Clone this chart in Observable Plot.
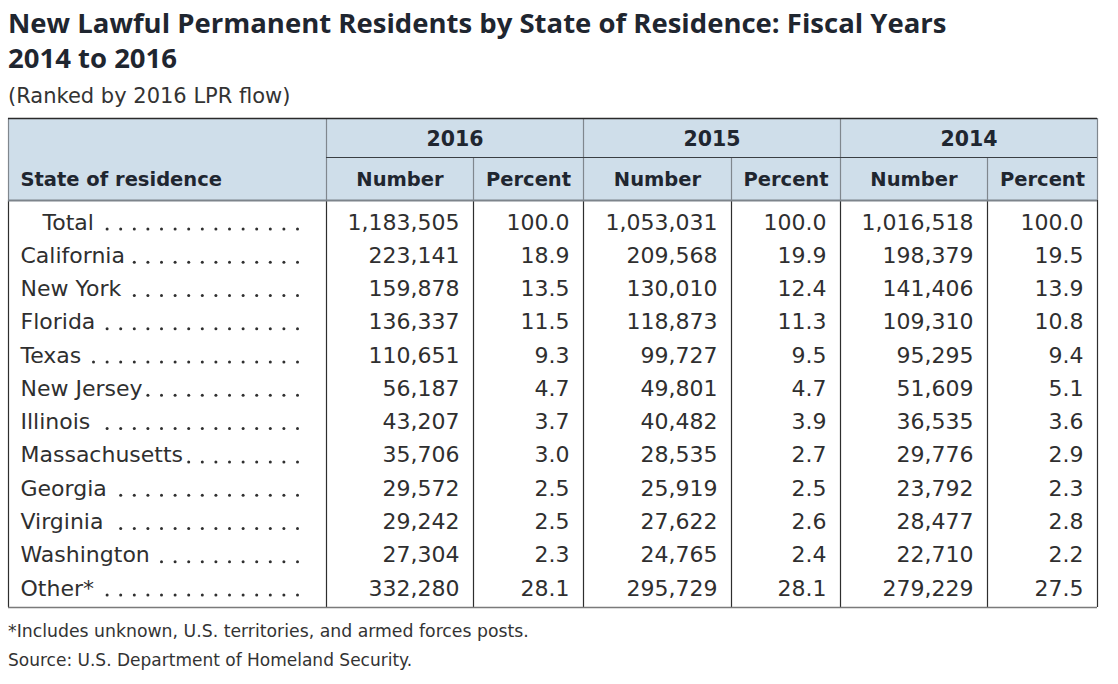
<!DOCTYPE html>
<html><head><meta charset="utf-8">
<script src="https://cdn.jsdelivr.net/npm/d3@7"></script>
<script src="https://cdn.jsdelivr.net/npm/@observablehq/plot@0.6"></script>
<style>
body{margin:0;background:#fff;width:1118px;height:684px;position:relative;overflow:hidden;}
#title{position:absolute;left:8px;top:5px;margin:0;font:700 27.5px/35px "Open Sans",sans-serif;color:#1f2630;white-space:nowrap;}
#subtitle{position:absolute;left:8px;top:84px;font:400 21px/24px "DejaVu Sans",sans-serif;color:#333;white-space:nowrap;}
#chart{position:absolute;left:0;top:110px;}
#note{position:absolute;left:8px;top:621px;font:400 17.3px/20px "DejaVu Sans",sans-serif;color:#333;white-space:nowrap;}
#source{position:absolute;left:8px;top:650px;font:400 17px/20px "DejaVu Sans",sans-serif;color:#333;white-space:nowrap;}
</style></head><body>
<h1 id="title">New Lawful Permanent Residents by State of Residence: Fiscal Years<br>2014 to 2016</h1>
<div id="subtitle">(Ranked by 2016 LPR flow)</div>
<div id="chart"></div>
<div id="note">*Includes unknown, U.S. territories, and armed forces posts.</div>
<div id="source">Source: U.S. Department of Homeland Security.</div>
<script>
// ---- data ----
const states = ["Total","California","New York","Florida","Texas","New Jersey","Illinois","Massachusetts","Georgia","Virginia","Washington","Other*"];
const years = ["2016","2015","2014"];
const subHeads = ["Number","Percent"];
const stubHead = "State of residence";
const num2016 = [1183505,223141,159878,136337,110651,56187,43207,35706,29572,29242,27304,332280];
const pct2016 = [100.0,18.9,13.5,11.5,9.3,4.7,3.7,3.0,2.5,2.5,2.3,28.1];
const num2015 = [1053031,209568,130010,118873,99727,49801,40482,28535,25919,27622,24765,295729];
const pct2015 = [100.0,19.9,12.4,11.3,9.5,4.7,3.9,2.7,2.5,2.6,2.4,28.1];
const num2014 = [1016518,198379,141406,109310,95295,51609,36535,29776,23792,28477,22710,279229];
const pct2014 = [100.0,19.5,13.9,10.8,9.4,5.1,3.6,2.9,2.3,2.8,2.2,27.5];

// ---- layout ----
const W = 1118, H = 505;
const colEdges = [8, 326, 473, 583, 731, 840, 987, 1097];
const tableTop = 8, hdrMid = 47, hdrBot = 90, tableBot = 497;
const row0 = 112, rowStep = 33.27;
const rowY = i => row0 + i * rowStep;
const padR = 14;
const bodySize = 22, headSize = 19.5, yearSize = 20.5;
const textColor = "#2f2f2f", headColor = "#1f2630";

const fmtN = d3.format(",");
const fmtP = d3.format(".1f");
const dataCols = [num2016, pct2016, num2015, pct2015, num2014, pct2014];
const fmts = [fmtN, fmtP, fmtN, fmtP, fmtN, fmtP];

// body cells
const cells = [];
dataCols.forEach((vals, c) => {
  vals.forEach((v, i) => cells.push({x: colEdges[c + 2] - padR, y: rowY(i), text: fmts[c](v)}));
});

// stub labels
const labels = states.map((s, i) => ({x: i === 0 ? 42 : 20, y: rowY(i), text: s}));

// dot leaders
const ctx = document.createElement("canvas").getContext("2d");
ctx.font = `${bodySize}px "DejaVu Sans"`;
const dotEnd = 297, pitch = 13.6;
const dots = [];
labels.forEach(l => {
  const end = l.x + ctx.measureText(l.text).width + 4;
  for (let x = dotEnd; x >= end; x -= pitch) dots.push({x, y: l.y + 6.5});
});

// headers
const yearHeads = years.map((y, k) => ({x: (colEdges[1 + 2 * k] + colEdges[3 + 2 * k]) / 2, y: (tableTop + hdrMid) / 2 + 1, text: y}));
const subHeadCells = d3.range(6).map(c => ({x: (colEdges[c + 1] + colEdges[c + 2]) / 2, y: (hdrMid + hdrBot) / 2 + 0.5, text: subHeads[c % 2]}));

// lines
const headerFullV = [colEdges[0], colEdges[1], colEdges[3], colEdges[5], colEdges[7]].map(x => ({x, y1: tableTop, y2: hdrBot}));
const headerSubV = [colEdges[2], colEdges[4], colEdges[6]].map(x => ({x, y1: hdrMid, y2: hdrBot}));
const bodyV = colEdges.map(x => ({x, y1: hdrBot, y2: tableBot}));

const chart = Plot.plot({
  width: W, height: H, margin: 0,
  x: {type: "identity", axis: null},
  y: {type: "identity", axis: null},
  style: {fontFamily: "DejaVu Sans", background: "transparent", color: textColor},
  marks: [
    Plot.rect([{}], {x1: colEdges[0], x2: colEdges[7], y1: tableTop, y2: hdrBot, fill: "#cfdeea"}),
    Plot.ruleX(headerFullV, {x: "x", y1: "y1", y2: "y2", stroke: "#80878e", strokeWidth: 1.2}),
    Plot.ruleX(headerSubV, {x: "x", y1: "y1", y2: "y2", stroke: "#80878e", strokeWidth: 1.2}),
    Plot.ruleX(bodyV, {x: "x", y1: "y1", y2: "y2", stroke: "#2e2e2e", strokeWidth: 1.2}),
    Plot.ruleY([{y: hdrMid}], {y: "y", x1: colEdges[1], x2: colEdges[7], stroke: "#3a3f44", strokeWidth: 1.2}),
    Plot.ruleY([{y: hdrBot}], {y: "y", x1: colEdges[0], x2: colEdges[7], stroke: "#7d848b", strokeWidth: 2}),
    Plot.ruleY([{y: tableTop}], {y: "y", x1: colEdges[0], x2: colEdges[7], stroke: "#2a2a2a", strokeWidth: 1.6}),
    Plot.ruleY([{y: tableBot}], {y: "y", x1: colEdges[0], x2: colEdges[7], stroke: "#7a7a7a", strokeWidth: 1.6}),
    Plot.text(yearHeads, {x: "x", y: "y", text: "text", fontSize: yearSize, fontWeight: "bold", fill: headColor, textAnchor: "middle", lineAnchor: "middle"}),
    Plot.text(subHeadCells, {x: "x", y: "y", text: "text", fontSize: headSize, fontWeight: "bold", fill: headColor, textAnchor: "middle", lineAnchor: "middle"}),
    Plot.text([{x: 20, y: (hdrMid + hdrBot) / 2 + 0.5, text: stubHead}], {x: "x", y: "y", text: "text", fontSize: headSize, fontWeight: "bold", fill: headColor, textAnchor: "start", lineAnchor: "middle"}),
    Plot.text(labels, {x: "x", y: "y", text: "text", fontSize: bodySize, fill: textColor, textAnchor: "start", lineAnchor: "middle"}),
    Plot.dot(dots, {x: "x", y: "y", r: 1.5, fill: textColor, stroke: null}),
    Plot.text(cells, {x: "x", y: "y", text: "text", fontSize: bodySize, fill: textColor, textAnchor: "end", lineAnchor: "middle"})
  ]
});
document.getElementById("chart").appendChild(chart);
</script>
</body></html>
